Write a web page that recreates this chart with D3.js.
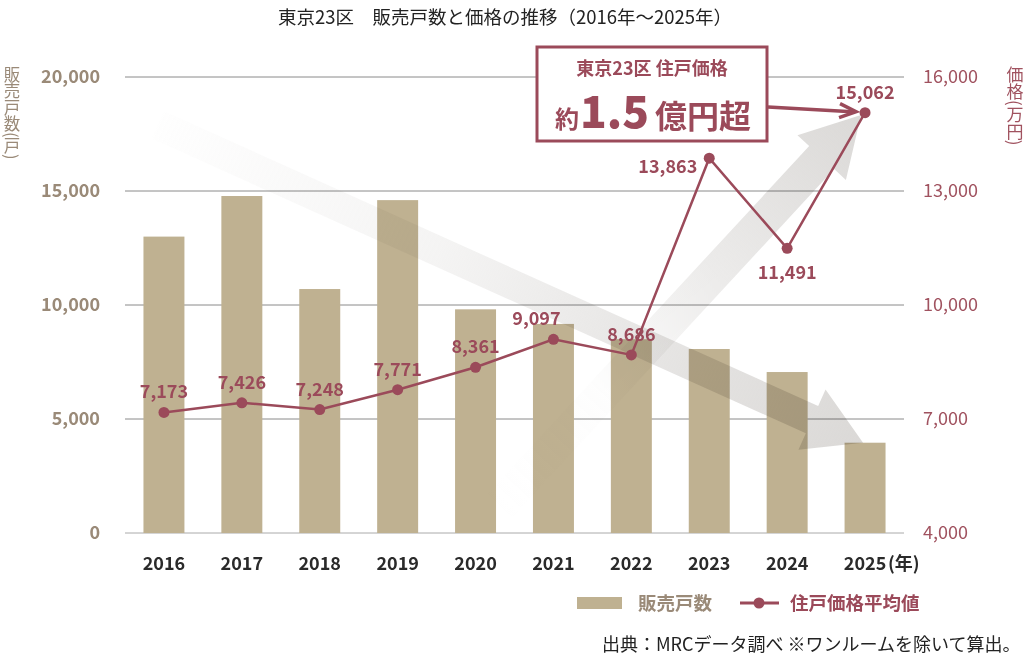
<!DOCTYPE html>
<html>
<head>
<meta charset="utf-8">
<script src="https://cdn.jsdelivr.net/npm/d3@7"></script>
<style>
  body { margin: 0; background: #fff; }
  svg { font-family: "Noto Sans CJK JP", "Noto Sans", sans-serif; }
</style>
</head>
<body>
<div id="chart"></div>
<script>
// data
const years = ['2016', '2017', '2018', '2019', '2020', '2021', '2022', '2023', '2024', '2025'];
const units = [13000, 14780, 10700, 14600, 9810, 9170, 8500, 8070, 7060, 3960];
const prices = [7173, 7426, 7248, 7771, 8361, 9097, 8686, 13863, 11491, 15062];
const leftTicks = [0, 5000, 10000, 15000, 20000];
const rightTicks = [4000, 7000, 10000, 13000, 16000];

const W = 1029, H = 664;
const barColor = '#bfb191';
const lineColor = '#9b4a5a';
const leftText = '#9a8a78';
const rightText = '#a0525f';

const svg = d3.select('#chart').append('svg')
  .attr('width', W).attr('height', H);

const defs = svg.append('defs');

const x = d3.scaleBand().domain(years).range([125, 904]).paddingInner(0.474).paddingOuter(0.237);
const yL = d3.scaleLinear().domain([0, 20000]).range([533, 77]);
const yR = d3.scaleLinear().domain([4000, 16000]).range([533, 77]);
const cx = d => x(d) + x.bandwidth() / 2;

// title
svg.append('text')
  .attr('x', 505).attr('y', 24)
  .attr('text-anchor', 'middle')
  .attr('font-size', 18.5).attr('fill', '#222')
  .text('東京23区　販売戸数と価格の推移（2016年～2025年）');

// gridlines
svg.append('g').selectAll('line')
  .data(leftTicks)
  .join('line')
  .attr('x1', 125).attr('x2', 904)
  .attr('y1', d => yL(d)).attr('y2', d => yL(d))
  .attr('stroke', d => d === 0 ? '#aaa' : '#8a8a8a')
  .attr('stroke-width', 1);

// bars
svg.append('g').selectAll('rect')
  .data(units)
  .join('rect')
  .attr('x', (d, i) => x(years[i]))
  .attr('width', x.bandwidth())
  .attr('y', d => yL(d))
  .attr('height', d => yL(0) - yL(d))
  .attr('fill', barColor);

// trend arrows (decorative)
function arrow(id, start, tip, half, headLen, headHalf, stops) {
  const dx = tip[0] - start[0], dy = tip[1] - start[1];
  const len = Math.hypot(dx, dy);
  const ux = dx / len, uy = dy / len;
  const nx = -uy, ny = ux;
  const bx = tip[0] - ux * headLen, by = tip[1] - uy * headLen;
  const pts = [
    [start[0] + nx * half, start[1] + ny * half],
    [bx + nx * half, by + ny * half],
    [bx + nx * headHalf, by + ny * headHalf],
    tip,
    [bx - nx * headHalf, by - ny * headHalf],
    [bx - nx * half, by - ny * half],
    [start[0] - nx * half, start[1] - ny * half]
  ];
  const g = defs.append('linearGradient').attr('id', id)
    .attr('gradientUnits', 'userSpaceOnUse')
    .attr('x1', start[0]).attr('y1', start[1])
    .attr('x2', tip[0]).attr('y2', tip[1]);
  stops.forEach(c => g.append('stop').attr('offset', c[0]).attr('stop-color', '#d9d7d5').attr('stop-opacity', c[1]));
  svg.append('path')
    .attr('d', 'M' + pts.map(p => p.join(',')).join('L') + 'Z')
    .attr('fill', `url(#${id})`)
    .style('mix-blend-mode', 'multiply');
}

arrow('gDown', [cx('2016') - 6, yL(17900)], [cx('2025') - 2, yL(3960)], 15, 56, 33,
  [[0, 0.02], [0.4, 0.28], [0.75, 0.7], [1, 0.95]]);
arrow('gUp', [cx('2020') + 20, yL(1000)], [cx('2025') - 4, yR(15000)], 17, 58, 33,
  [[0, 0], [0.3, 0.05], [0.6, 0.5], [1, 0.95]]);

// left axis
svg.append('g').selectAll('text')
  .data(leftTicks)
  .join('text')
  .attr('x', 100).attr('y', d => yL(d) + 6)
  .attr('text-anchor', 'end')
  .attr('font-size', 18).attr('font-weight', 700)
  .attr('fill', leftText)
  .text(d => d3.format(',')(d));

// right axis
svg.append('g').selectAll('text')
  .data(rightTicks)
  .join('text')
  .attr('x', 923).attr('y', d => yR(d) + 6)
  .attr('text-anchor', 'start')
  .attr('font-size', 18)
  .attr('fill', rightText)
  .text(d => d3.format(',')(d));

// axis titles (vertical)
svg.append('text')
  .attr('x', 12).attr('y', 66)
  .attr('font-size', 16.5).attr('fill', leftText)
  .style('writing-mode', 'vertical-rl')
  .style('text-orientation', 'mixed')
  .text('販売戸数(戸)');

svg.append('text')
  .attr('x', 1015).attr('y', 66)
  .attr('font-size', 17).attr('fill', rightText)
  .style('writing-mode', 'vertical-rl')
  .style('text-orientation', 'mixed')
  .text('価格(万円)');

// x axis labels
svg.append('g').selectAll('text')
  .data(years)
  .join('text')
  .attr('x', d => cx(d)).attr('y', 570)
  .attr('text-anchor', 'middle')
  .attr('font-size', 18).attr('font-weight', 700)
  .attr('fill', '#2a2a2a')
  .text(d => d);
svg.append('text')
  .attr('x', cx('2025') + 23).attr('y', 570)
  .attr('font-size', 18).attr('font-weight', 700)
  .attr('fill', '#2a2a2a')
  .text('(年)');

// price line
const line = d3.line()
  .x((d, i) => cx(years[i]))
  .y(d => yR(d));

svg.append('path')
  .datum(prices)
  .attr('d', line)
  .attr('fill', 'none')
  .attr('stroke', lineColor)
  .attr('stroke-width', 2.5);

svg.append('g').selectAll('circle')
  .data(prices)
  .join('circle')
  .attr('cx', (d, i) => cx(years[i]))
  .attr('cy', d => yR(d))
  .attr('r', 5.5)
  .attr('fill', lineColor);

// value labels
const labelPos = prices.map((d, i) => {
  if (i === 7) return { dx: -12, dy: 15, anchor: 'end' };
  if (i === 8) return { dx: 0, dy: 31, anchor: 'middle' };
  if (i === 5) return { dx: -17, dy: -14, anchor: 'middle' };
  return { dx: 0, dy: -14, anchor: 'middle' };
});

svg.append('g').selectAll('text')
  .data(prices)
  .join('text')
  .attr('x', (d, i) => cx(years[i]) + labelPos[i].dx)
  .attr('y', (d, i) => yR(d) + labelPos[i].dy)
  .attr('text-anchor', (d, i) => labelPos[i].anchor)
  .attr('font-size', 18).attr('font-weight', 700)
  .attr('fill', lineColor)
  .text(d => d3.format(',')(d));

// callout box
svg.append('rect')
  .attr('x', 537).attr('y', 47)
  .attr('width', 230).attr('height', 94)
  .attr('fill', '#fff')
  .attr('stroke', lineColor).attr('stroke-width', 3);

svg.append('text')
  .attr('x', 652).attr('y', 75)
  .attr('text-anchor', 'middle')
  .attr('font-size', 18).attr('font-weight', 700)
  .attr('fill', lineColor)
  .text('東京23区 住戸価格');

const callout = svg.append('g').attr('fill', lineColor).attr('font-weight', 700);
callout.append('text').attr('x', 555).attr('y', 128).attr('font-size', 24).text('約');
callout.append('text').attr('x', 580).attr('y', 128).attr('font-size', 44).attr('font-weight', 900).text('1.5');
callout.append('text').attr('x', 655).attr('y', 128).attr('font-size', 32).text('億円超');

// callout arrow
const tipX = cx('2025') - 9, tipY = yR(prices[9]) - 1;
svg.append('line')
  .attr('x1', 768).attr('y1', 107)
  .attr('x2', tipX - 4).attr('y2', tipY)
  .attr('stroke', lineColor).attr('stroke-width', 3.5);
svg.append('path')
  .attr('d', `M${tipX - 16},${tipY - 8}L${tipX},${tipY}L${tipX - 17},${tipY + 6}`)
  .attr('fill', 'none')
  .attr('stroke', lineColor).attr('stroke-width', 3.5)
  .attr('stroke-linejoin', 'miter');

// legend
svg.append('rect')
  .attr('x', 577).attr('y', 597)
  .attr('width', 45).attr('height', 12)
  .attr('fill', barColor);
svg.append('text')
  .attr('x', 638).attr('y', 610)
  .attr('font-size', 18.5).attr('font-weight', 700)
  .attr('fill', leftText)
  .text('販売戸数');
svg.append('line')
  .attr('x1', 740).attr('x2', 779)
  .attr('y1', 603).attr('y2', 603)
  .attr('stroke', lineColor).attr('stroke-width', 3);
svg.append('circle')
  .attr('cx', 759).attr('cy', 603).attr('r', 5.5)
  .attr('fill', lineColor);
svg.append('text')
  .attr('x', 790).attr('y', 610)
  .attr('font-size', 18.5).attr('font-weight', 700)
  .attr('fill', lineColor)
  .text('住戸価格平均値');

// source
svg.append('text')
  .attr('x', 602).attr('y', 651)
  .attr('font-size', 18).attr('fill', '#222')
  .text('出典：MRCデータ調べ ※ワンルームを除いて算出。');
</script>
</body>
</html>
